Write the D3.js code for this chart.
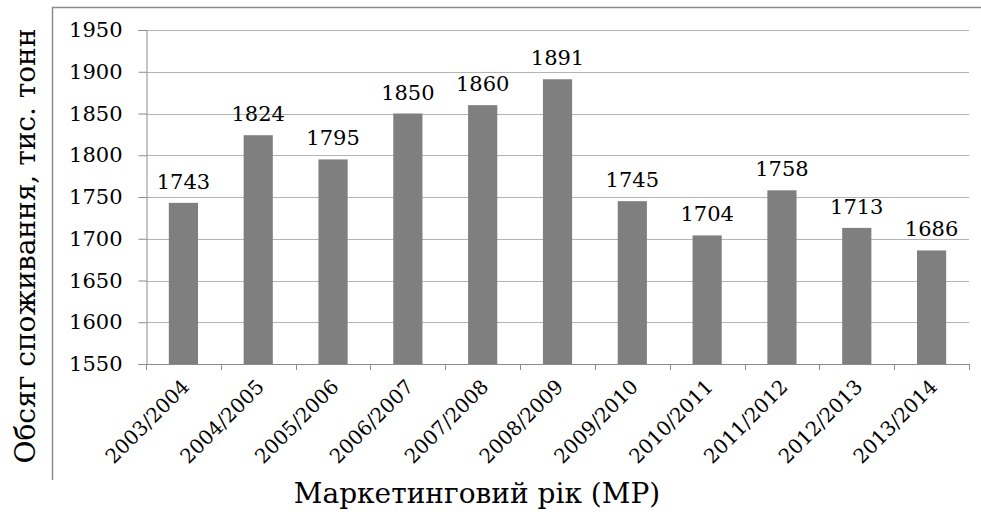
<!DOCTYPE html>
<html>
<head>
<meta charset="utf-8">
<script src="https://cdn.jsdelivr.net/npm/d3@7"></script>
<style>
  body { margin: 0; background: #fff; }
</style>
</head>
<body>
<div id="chart"></div>
<script>
// chart data
var years = ["2003/2004", "2004/2005", "2005/2006", "2006/2007", "2007/2008", "2008/2009",
             "2009/2010", "2010/2011", "2011/2012", "2012/2013", "2013/2014"];
var consumption = [1743, 1824, 1795, 1850, 1860, 1891, 1745, 1704, 1758, 1713, 1686];
var yTicks = [1550, 1600, 1650, 1700, 1750, 1800, 1850, 1900, 1950];

// no letter-spacing: it makes the renderer drop the serif face
var FONT = "'DejaVu Serif'";
var width = 981, height = 515;
var plot = {left: 146, right: 969, top: 30, bottom: 364};

var svg = d3.select("#chart").append("svg")
    .attr("width", width)
    .attr("height", height);

// outer frame (top + left only visible)
svg.append("path")
    .attr("d", "M52.5,480 V7.5 H981")
    .attr("fill", "none")
    .attr("stroke", "#8c8c8c")
    .attr("stroke-width", 1.5);

var x = d3.scaleBand()
    .domain(years)
    .range([plot.left, plot.right])
    .paddingInner(0.61)
    .paddingOuter(0.305);

var xb = d3.scaleBand()
    .domain(years)
    .range([plot.left, plot.right]);

var y = d3.scaleLinear()
    .domain([1550, 1950])
    .range([plot.bottom, plot.top]);

// gridlines
svg.append("g")
    .selectAll("line")
    .data(yTicks.slice(1))
    .enter().append("line")
      .attr("x1", plot.left)
      .attr("x2", plot.right)
      .attr("y1", function(d) { return Math.round(y(d)) + 0.5; })
      .attr("y2", function(d) { return Math.round(y(d)) + 0.5; })
      .attr("stroke", "#b4b4b4")
      .attr("stroke-width", 1.2);

// y axis
var yAxis = svg.append("g")
    .attr("transform", "translate(" + (plot.left + 0.5) + ",0)")
    .call(d3.axisLeft(y).tickValues(yTicks).tickSize(8).tickPadding(16).tickFormat(d3.format("d")));
yAxis.attr("font-family", null).attr("font-size", null);
yAxis.select(".domain").attr("stroke", "#8c8c8c");
yAxis.selectAll(".tick line").attr("stroke", "#8c8c8c");
yAxis.selectAll(".tick text")
    .style("font-family", FONT)
    .style("font-size", "21px")
    .attr("fill", "#000");

// bars
svg.selectAll("rect.bar")
    .data(consumption)
    .enter().append("rect")
      .attr("class", "bar")
      .attr("x", function(d, i) { return x(years[i]); })
      .attr("width", x.bandwidth())
      .attr("y", function(d) { return y(d); })
      .attr("height", function(d) { return y(1550) - y(d); })
      .attr("fill", "#7f7f7f");

// value labels
svg.selectAll("text.val")
    .data(consumption)
    .enter().append("text")
      .attr("class", "val")
      .attr("x", function(d, i) { return x(years[i]) + x.bandwidth() / 2; })
      .attr("y", function(d) { return y(d) - 14; })
      .attr("text-anchor", "middle")
      .style("font-family", FONT)
      .style("font-size", "21px")
      .text(function(d) { return d; });

// x axis line + boundary ticks
var xAxisG = svg.append("g");
xAxisG.append("line")
    .attr("x1", plot.left).attr("x2", plot.right)
    .attr("y1", plot.bottom + 0.5).attr("y2", plot.bottom + 0.5)
    .attr("stroke", "#8c8c8c");
xAxisG.selectAll("line.tk")
    .data(years.concat(["end"]))
    .enter().append("line")
      .attr("class", "tk")
      .attr("x1", function(d, i) { return Math.round(plot.left + i * xb.bandwidth()) + 0.5; })
      .attr("x2", function(d, i) { return Math.round(plot.left + i * xb.bandwidth()) + 0.5; })
      .attr("y1", plot.bottom)
      .attr("y2", plot.bottom + 6)
      .attr("stroke", "#8c8c8c");

// x tick labels, rotated
xAxisG.selectAll("text.xl")
    .data(years)
    .enter().append("text")
      .attr("class", "xl")
      .attr("text-anchor", "end")
      .attr("transform", function(d) {
        return "translate(" + (xb(d) + xb.bandwidth() / 2 + 7) + "," + (plot.bottom + 24) + ")rotate(-45)";
      })
      .style("font-family", FONT)
      .style("font-size", "20px")
      .text(function(d) { return d; });

// axis titles
svg.append("text")
    .attr("x", 477)
    .attr("y", 503)
    .attr("text-anchor", "middle")
    .style("font-family", FONT)
    .style("font-size", "28px")
    .text("Маркетинговий рік (МР)");

svg.append("text")
    .attr("text-anchor", "middle")
    .attr("transform", "translate(35,246)rotate(-90)")
    .style("font-family", FONT)
    .style("font-size", "28px")
    .text("Обсяг споживання, тис. тонн");
</script>
</body>
</html>
